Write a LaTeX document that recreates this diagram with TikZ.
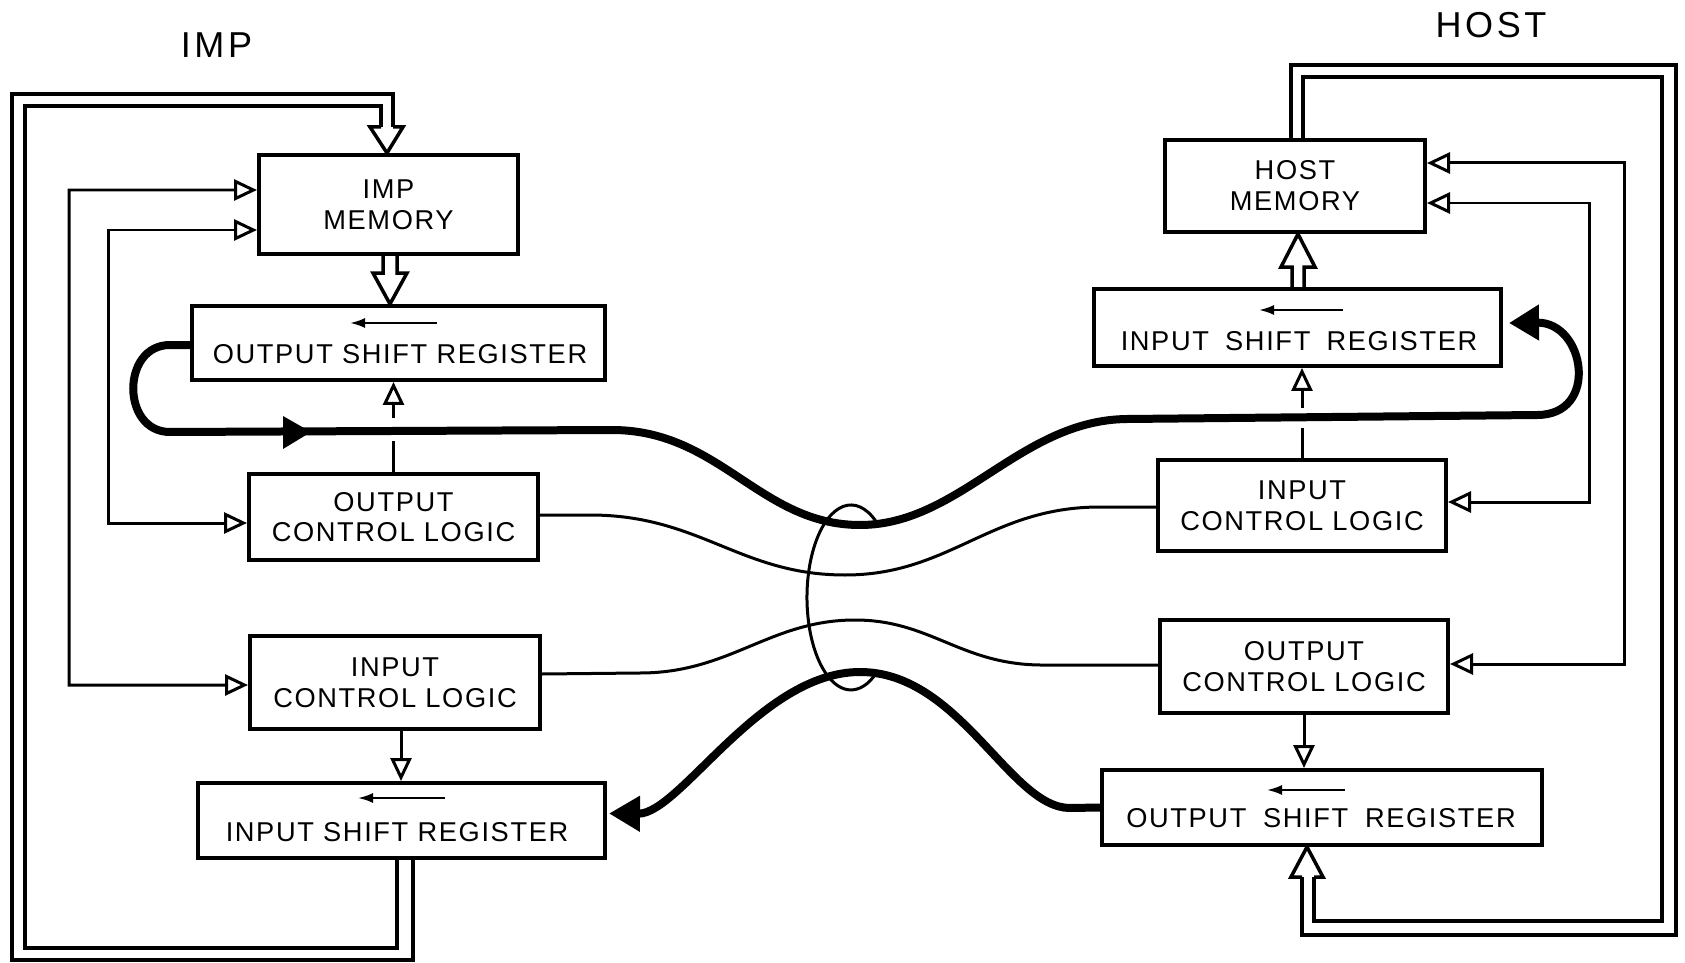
\documentclass[tikz,border=0pt]{standalone}
\usepackage{fontspec}
\setmainfont{Liberation Sans}
\newfontfamily\labfont[LetterSpace=6]{Liberation Sans}
\newfontfamily\ttlfont[LetterSpace=10]{Liberation Sans}
\usetikzlibrary{arrows.meta,calc}

\begin{document}
\begin{tikzpicture}[x=0.02cm,y=-0.02cm,
  box/.style={draw, line width=0.08cm, inner sep=0pt, align=center,
    font=\labfont\fontsize{15.5pt}{17.5pt}\selectfont},
  wh/.style 2 args={minimum width=#1*0.02cm, minimum height=#2*0.02cm},
  lab/.style={inner sep=0pt, font=\labfont\fontsize{15.5pt}{17.5pt}\selectfont},
  ttl/.style={inner sep=0pt, font=\ttlfont\fontsize{20.5pt}{24pt}\selectfont},
  thin/.style={line width=0.06cm},
  ctlone/.style={thin, -{Triangle[open, length=0.46cm, width=0.42cm]}},
  ctltwo/.style={thin, {Triangle[open, length=0.46cm, width=0.42cm]}-{Triangle[open, length=0.46cm, width=0.42cm]}},
  bus/.style={line width=0.07cm, line join=miter},
  heavy/.style={line width=0.16cm},
  shiftarr/.style={line width=0.045cm, -{Latex[length=0.3cm, width=0.2cm]}},
]
\fill[white] (0,0) rectangle (1685,963);
\useasboundingbox (0,0) rectangle (1685,963);

% titles
\node[ttl] (imp) at (216.5,45) {IMP};
\node[ttl] (host) at (1491,25) {HOST};

% ---- IMP side boxes
\node[box, wh={259}{99}] (impmem) at (388.5,204.5) {IMP\\MEMORY};
\node[box, wh={413}{74}] (losr) at (398.5,343) {};
\node[lab] (losrt) at ($(losr.center)+(1.5,11)$) {OUTPUT SHIFT REGISTER};
\draw[shiftarr] ($(losr.center)+(38.5,-20)$) -- ++(-87,0);
\node[box, wh={289}{86}] (locl) at (393.5,517) {OUTPUT\\CONTROL LOGIC};
\node[box, wh={290}{93}] (licl) at (395,682.5) {INPUT\\CONTROL LOGIC};
\node[box, wh={407}{75}] (lisr) at (401.5,820.5) {};
\node[lab] (lisrt) at ($(lisr.center)+(-4.5,11.5)$) {INPUT SHIFT REGISTER};
\draw[shiftarr] ($(lisr.center)+(43.5,-22.5)$) -- ++(-87,0);

% ---- HOST side boxes
\node[box, wh={260}{92}] (hostmem) at (1295,186) {HOST\\MEMORY};
\node[box, wh={407}{77}] (risr) at (1297.5,327.5) {};
\node[lab] (risrt) at ($(risr.center)+(1.5,13.5)$) {INPUT\hspace{0.14cm} SHIFT\hspace{0.14cm} REGISTER};
\draw[shiftarr] ($(risr.center)+(45.5,-17.5)$) -- ++(-84,0);
\node[box, wh={288}{91}] (ricl) at (1302,505.5) {INPUT\\CONTROL LOGIC};
\node[box, wh={288}{93}] (rocl) at (1304,666.5) {OUTPUT\\CONTROL LOGIC};
\node[box, wh={440}{75}] (rosr) at (1322,807.5) {};
\node[lab] (rosrt) at ($(rosr.center)+(-1,10.5)$) {OUTPUT\hspace{0.15cm} SHIFT\hspace{0.15cm} REGISTER};
\draw[shiftarr] ($(rosr.center)+(23,-17.5)$) -- ++(-78,0);

% ---- control lines, IMP side
\draw[ctltwo] ($(impmem.west)+(0,-14.5)$) -| (69,685) -- ($(licl.west)+(0,2.5)$);
\draw[ctltwo] ($(impmem.west)+(0,25.5)$) -| (108,523) -- ($(locl.west)+(0,6)$);
\draw[thin] (locl.north) -- ++(0,-31);
\draw[ctlone] ($(locl.north)+(0,-54)$) -- (locl.north |- losr.south);
\draw[ctlone] ($(licl.south)+(6,0)$) -- ($(licl.south |- lisr.north)+(6,0)$);

% ---- control lines, HOST side
\draw[ctltwo] ($(hostmem.east)+(0,-23)$) -| (1624,664) -- ($(rocl.east)+(0,-2.5)$);
\draw[ctltwo] ($(hostmem.east)+(0,17)$) -| (1589,502) -- ($(ricl.east)+(0,-3.5)$);
\draw[thin] (ricl.north) -- ++(0,-30);
\draw[ctlone] ($(ricl.north)+(0,-50)$) -- (ricl.north |- risr.south);
\draw[ctlone] (rocl.south) -- (rocl.south |- rosr.north);

% ---- buses, IMP side
\draw[bus] ($(lisr.south)+(11.5,0)$) |- (12,960) |- (393,94) -- (393,127);
\draw[bus] ($(lisr.south)+(-4.5,0)$) |- (25,948) |- (381,106) -- (381,127);
\draw[bus] (381,127) -- (370,127) -- ($(impmem.north)+(-1.5,0)$) -- (403,127) -- (393,127);
\draw[bus] ($(impmem.south)+(-5.5,0)$) -- (383,273) -- (373,273) -- ($(losr.north)+(-8.5,0)$)
  -- (407,273) -- (397,273) -- ($(impmem.south)+(8.5,0)$);

% ---- buses, HOST side
\draw[bus] ($(hostmem.north)+(-4,0)$) |- (1676,65) |- (1302,935) -- (1302,877);
\draw[bus] ($(hostmem.north)+(8,0)$) |- (1662,77) |- (1314,921) -- (1314,877);
\draw[bus] (1302,877) -- (1291,877) -- ($(rosr.south)+(-15,0)$) -- (1323,877) -- (1314,877);
\draw[bus] ($(risr.north)+(-5.5,0)$) -- (1292,267) -- (1281,267) -- ($(hostmem.south)+(3,0)$)
  -- (1315,267) -- (1304,267) -- ($(risr.north)+(6.5,0)$);

% ---- thin interconnection lines
\draw[thin] ($(locl.east)+(0,-2)$) -- (590,515) .. controls (700,515) and (740,575) .. (845,575)
  .. controls (950,575) and (990,507) .. (1100,507) -- ($(ricl.west)+(0,1.5)$);
\draw[thin] ($(licl.east)+(0,-8.5)$) -- (640,673) .. controls (730,673) and (770,620) .. (855,620)
  .. controls (930,620) and (960,664) .. (1040,665) -- ($(rocl.west)+(0,-1.5)$);

% ---- heavy data paths
\draw[heavy, -{Triangle[length=0.6cm, width=0.68cm]}] ($(losr.west)+(0,2)$) -- (170,345)
  .. controls (121,345) and (121,432) .. (170,432) -- (612,430)
  .. controls (720,430) and (760,525) .. (860,525)
  .. controls (960,525) and (1020,420) .. (1127,419) -- (1537,415)
  .. controls (1600,415) and (1585,322) .. ($(risr.east)+(6,-4.5)$);
\fill (283,416) -- (311,432) -- (283,449) -- cycle;
\draw[heavy, -{Triangle[length=0.62cm, width=0.68cm]}] (rosr.west) -- (1070,808)
  .. controls (1010,808) and (960,672) .. (860,672)
  .. controls (760,672) and (680,814) .. ($(lisr.east)+(2,-7)$);

% ---- cable ellipse
\draw[thin] (876.2,521.7) arc[start angle=55, end angle=305, x radius=0.88cm, y radius=1.85cm];
\end{tikzpicture}
\end{document}
